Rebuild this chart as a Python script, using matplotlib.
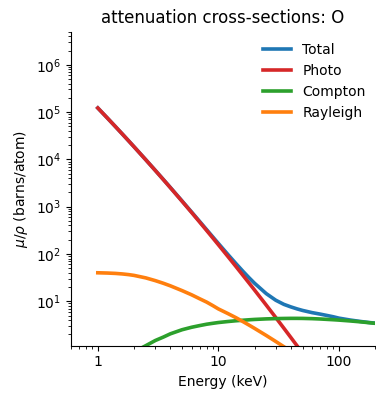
import numpy as np
import matplotlib
matplotlib.use("Agg")
import matplotlib.pyplot as plt
from matplotlib.ticker import FixedLocator, FixedFormatter, NullFormatter

# energies (keV) and cross-sections (barns/atom)
energy = [1, 1.2, 1.4, 1.6, 1.8, 2, 2.5, 3, 3.5, 4, 5, 6, 7, 8, 9, 10,
          12, 14, 16, 18, 20, 25, 30, 35, 40, 45, 50, 60, 70, 80, 90, 100,
          125, 150, 175, 200]
photo = [121900, 74820, 49260, 34170, 24670, 18390, 9800, 5818, 3724, 2520,
         1302, 753.9, 472.1, 313.6, 218.0, 157.1,
         88.6, 54.4, 35.4, 24.25, 17.22, 8.277, 4.516, 2.692, 1.713, 1.146,
         0.798, 0.4247, 0.2478, 0.1548, 0.1019, 0.0700,
         0.0313, 0.0161, 0.00913, 0.00556]
compton = [0.35, 0.45, 0.55, 0.65, 0.75, 0.85, 1.15, 1.48, 1.75, 2.05,
           2.5, 2.82, 3.06, 3.27, 3.42, 3.55,
           3.73, 3.87, 3.97, 4.06, 4.13, 4.24, 4.3, 4.33, 4.35, 4.35, 4.34,
           4.29, 4.22, 4.14, 4.07, 4.0,
           3.83, 3.68, 3.54, 3.42]
rayleigh = [40, 39.5, 38.8, 37.8, 36.6, 35.2, 31.2, 27.3, 24.0, 21.2,
            16.8, 13.7, 11.3, 9.6, 8.1, 6.9,
            5.5, 4.5, 3.72, 3.13, 2.67, 1.89, 1.41, 1.093, 0.871, 0.709, 0.586,
            0.42, 0.31, 0.24, 0.19, 0.155,
            0.10, 0.07, 0.052, 0.04]
total = [121940, 74860, 49299, 34208, 24707, 18426, 9832, 5847, 3750, 2543,
         1321, 770.4, 486.5, 326.4, 229.4, 167.5,
         97.8, 62.7, 43.1, 31.4, 24.0, 14.5, 10.5, 8.6, 7.6, 6.9, 6.4,
         5.75, 5.35, 5.0, 4.7, 4.4,
         4.0, 3.75, 3.57, 3.45]

labels = ["Total", "Photo", "Compton", "Rayleigh"]
colors = ["tab:blue", "tab:red", "tab:green", "tab:orange"]

fig = plt.figure(figsize=(3.76, 3.94), dpi=100)
ax = fig.add_axes([0.189, 0.1226, 0.8086, 0.797])

for y, lab, c in zip([total, photo, compton, rayleigh], labels, colors):
    ax.plot(energy, y, color=c, lw=2.6, label=lab)

ax.set_xscale("log")
ax.set_yscale("log")
ax.set_xlim(0.6, 200)
ax.set_ylim(1.15, 5e6)

ax.xaxis.set_major_locator(FixedLocator([1, 10, 100]))
ax.xaxis.set_major_formatter(FixedFormatter(["1", "10", "100"]))
ax.xaxis.set_minor_formatter(NullFormatter())

ax.spines["top"].set_visible(False)
ax.spines["right"].set_visible(False)

ax.set_xlabel("Energy (keV)")
ax.set_ylabel(r"$\mu/\rho$ (barns/atom)")
ax.set_title("attenuation cross-sections: O")
ax.legend(loc="upper right", frameon=False, bbox_to_anchor=(1.01, 1.003))

fig.savefig("out.png", dpi=100)
